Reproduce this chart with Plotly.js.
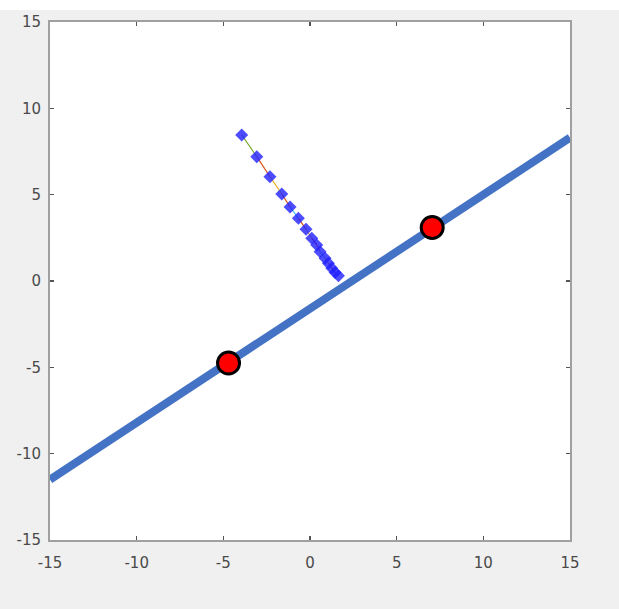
<!DOCTYPE html>
<html>
<head>
<meta charset="utf-8">
<script src="https://cdn.plot.ly/plotly-3.0.1.min.js"></script>
<style>
  html, body { margin: 0; padding: 0; background: #f0f0f0; overflow: hidden; }
  #graph { width: 619px; height: 609px; }
</style>
</head>
<body>
<div id="graph"></div>
<script>
// Fitted line (end points at the axis limits)
let lineX = [-15, 15];
let lineY = [-11.5, 8.3];

// The two red points lying on the line
let pointX = [-4.7, 7.05];
let pointY = [-4.75, 3.1];

// Path of the blue points, from top-left down to the line
let pathX = [-3.94, -3.07, -2.31, -1.63, -1.15, -0.67, -0.23, 0.10, 0.39, 0.58, 0.87, 1.06, 1.26, 1.45, 1.64];
let pathY = [8.46, 7.20, 6.04, 5.04, 4.29, 3.63, 3.00, 2.48, 2.09, 1.70, 1.32, 1.03, 0.74, 0.49, 0.30];

// colours of the thin segments between path points
let segColors = ['#77ac30', '#d95319', '#edb120', '#d95319', '#4dbeee', '#d95319',
                 '#edb120', '#a2142f', '#d95319', '#4dbeee', '#edb120', '#d95319', '#a2142f', '#d95319'];

let tickVals = [-15, -10, -5, 0, 5, 10, 15];
let tickText = ['-15', '-10', '-5', '0', '5', '10', '15'];

let data = [];

// main blue line
data.push({
    x: lineX,
    y: lineY,
    mode: 'lines',
    line: {color: '#4472c4', width: 8},
    hoverinfo: 'skip'
});

// thin coloured segments of the path
for (let i = 0; i < pathX.length - 1; i++) {
    data.push({
        x: [pathX[i], pathX[i + 1]],
        y: [pathY[i], pathY[i + 1]],
        mode: 'lines',
        line: {color: segColors[i], width: 1.2},
        hoverinfo: 'skip'
    });
}

// blue markers of the path
data.push({
    x: pathX,
    y: pathY,
    mode: 'markers',
    marker: {color: '#2020ff', size: 10, symbol: 'diamond', opacity: 0.8}
});

// red circles
data.push({
    x: pointX,
    y: pointY,
    mode: 'markers',
    marker: {color: '#ff0000', size: 22, line: {color: '#000000', width: 3}}
});

let axisStyle = {
    range: [-15, 15],
    tickvals: tickVals,
    ticktext: tickText,
    ticks: 'inside',
    ticklen: 4,
    tickwidth: 1.5,
    tickcolor: '#555',
    showline: true,
    linecolor: '#a0a0a0',
    linewidth: 2,
    mirror: 'ticks',
    showgrid: false,
    zeroline: false,
    tickfont: {family: 'DejaVu Sans', size: 15, color: '#4a4a4a'}
};

let layout = {
    width: 619,
    height: 609,
    margin: {l: 50, r: 49, t: 22, b: 69},
    paper_bgcolor: '#f0f0f0',
    plot_bgcolor: '#ffffff',
    showlegend: false,
    xaxis: Object.assign({}, axisStyle, {ticklabelstandoff: 8}),
    yaxis: Object.assign({}, axisStyle, {ticklabelstandoff: 4}),
    shapes: [{   // white strip at the very top of the window
        type: 'rect', xref: 'paper', yref: 'paper',
        x0: -50 / 520, x1: 569 / 520, y0: 530 / 518, y1: 540 / 518,
        fillcolor: '#ffffff', line: {width: 0}, layer: 'below'
    }]
};

Plotly.newPlot('graph', data, layout, {displayModeBar: false, staticPlot: true});
</script>
</body>
</html>
